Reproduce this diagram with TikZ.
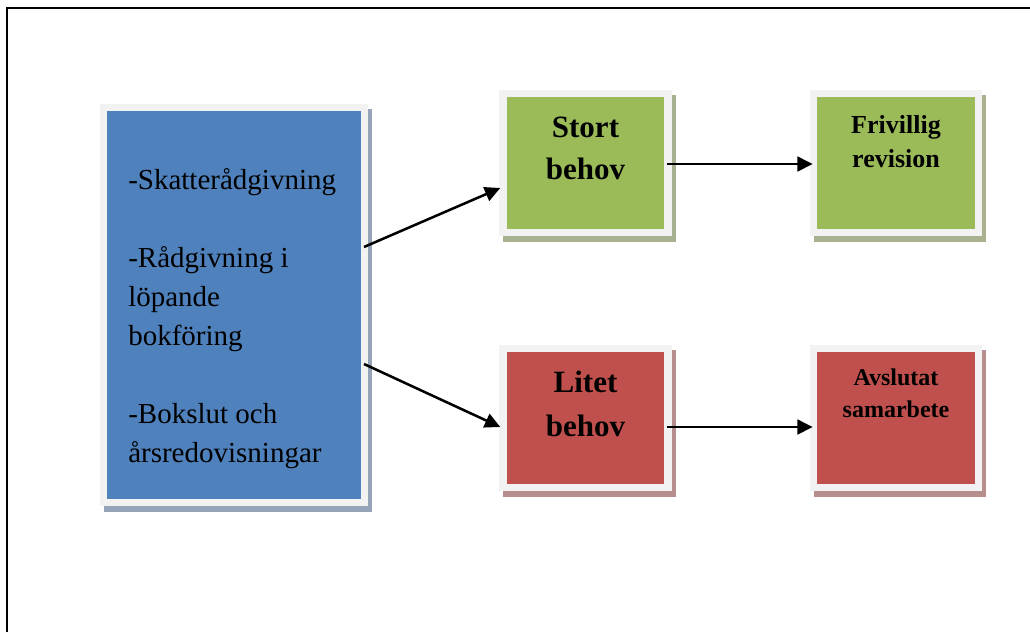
\documentclass[tikz,border=0pt]{standalone}
\usepackage{fontspec}
\setmainfont{Liberation Serif}
\usetikzlibrary{arrows.meta,calc,backgrounds}
\definecolor{bluefill}{HTML}{4F81BD}
\definecolor{greenfill}{HTML}{9BBB59}
\definecolor{redfill}{HTML}{C0504D}
\definecolor{framegray}{HTML}{F2F2F2}
\definecolor{blueshadow}{RGB}{150,164,186}
\definecolor{greenshadow}{RGB}{168,178,145}
\definecolor{redshadow}{RGB}{182,142,142}
\begin{document}
\begin{tikzpicture}[x=0.75pt,y=-0.75pt,
  box/.style={rectangle, draw=framegray, line width=5.625pt, inner sep=0pt, outer sep=0.5\pgflinewidth},
  smallbox/.style={box, minimum width=123.75pt, minimum height=103.9pt},
  arr/.style={line width=1.9pt, -{Triangle[length=11.5pt,width=11pt]}},
  bluetxt/.style={inner sep=0pt, align=left, font=\fontsize{21.75pt}{29.25pt}\selectfont},
  bigtxt/.style={inner sep=0pt, align=center, font=\fontsize{23.25pt}{31.5pt}\selectfont\bfseries}
]
\useasboundingbox (0,0) rectangle (1030,632);
\draw[line width=1.2pt] (7,632) -- (7,8) -- (1030,8);

\node[box, fill=bluefill, minimum width=195.4pt, minimum height=295.9pt] (blue) at (234,305) {};
\node[smallbox, fill=greenfill] (stort) at (585.5,163) {};
\node[smallbox, fill=greenfill] (friv) at (896,163) {};
\node[smallbox, fill=redfill] (litet) at (585.5,418) {};
\node[smallbox, fill=redfill] (avsl) at (896,418) {};

\node[bluetxt, anchor=base west] (bluetext) at (128,462)
  {-Skatterådgivning\\[29.25pt]-Rådgivning i\\löpande\\bokföring\\[29.25pt]-Bokslut och\\årsredovisningar};
\node[bigtxt, anchor=base] (stortt) at (585.5,179) {Stort\\behov};
\node[inner sep=0pt, align=center, font=\fontsize{23.25pt}{33pt}\selectfont\bfseries, anchor=base] (litett) at (585.5,436) {Litet\\behov};
\node[inner sep=0pt, align=center, font=\fontsize{19.5pt}{25.5pt}\selectfont\bfseries, anchor=base] (frivt) at (896,167) {Frivillig\\revision};
\node[inner sep=0pt, align=center, font=\fontsize{18pt}{24pt}\selectfont\bfseries, anchor=base] (avslt) at (896,417) {Avslutat\\samarbete};

\draw[arr] ([shift={(-4,-58)}]blue.east) -- ([shift={(1,25)}]stort.west);
\draw[arr] ([shift={(-4,59)}]blue.east) -- ([shift={(1,9)}]litet.west);
\draw[arr] ([shift={(-5,1)}]stort.east) -- ([shift={(3,1)}]friv.west);
\draw[arr] ([shift={(-5,9)}]litet.east) -- ([shift={(3,9)}]avsl.west);

\begin{scope}[on background layer]
\fill[white] (0,0) rectangle (1030,632);
\fill[blueshadow] ($(blue.north west)+(4,5.5)$) rectangle ($(blue.south east)+(4,5.5)$);
\fill[greenshadow] ($(stort.north west)+(4,5.5)$) rectangle ($(stort.south east)+(4,5.5)$);
\fill[greenshadow] ($(friv.north west)+(4,5.5)$) rectangle ($(friv.south east)+(4,5.5)$);
\fill[redshadow] ($(litet.north west)+(4,5.5)$) rectangle ($(litet.south east)+(4,5.5)$);
\fill[redshadow] ($(avsl.north west)+(4,5.5)$) rectangle ($(avsl.south east)+(4,5.5)$);
\end{scope}
\end{tikzpicture}
\end{document}
